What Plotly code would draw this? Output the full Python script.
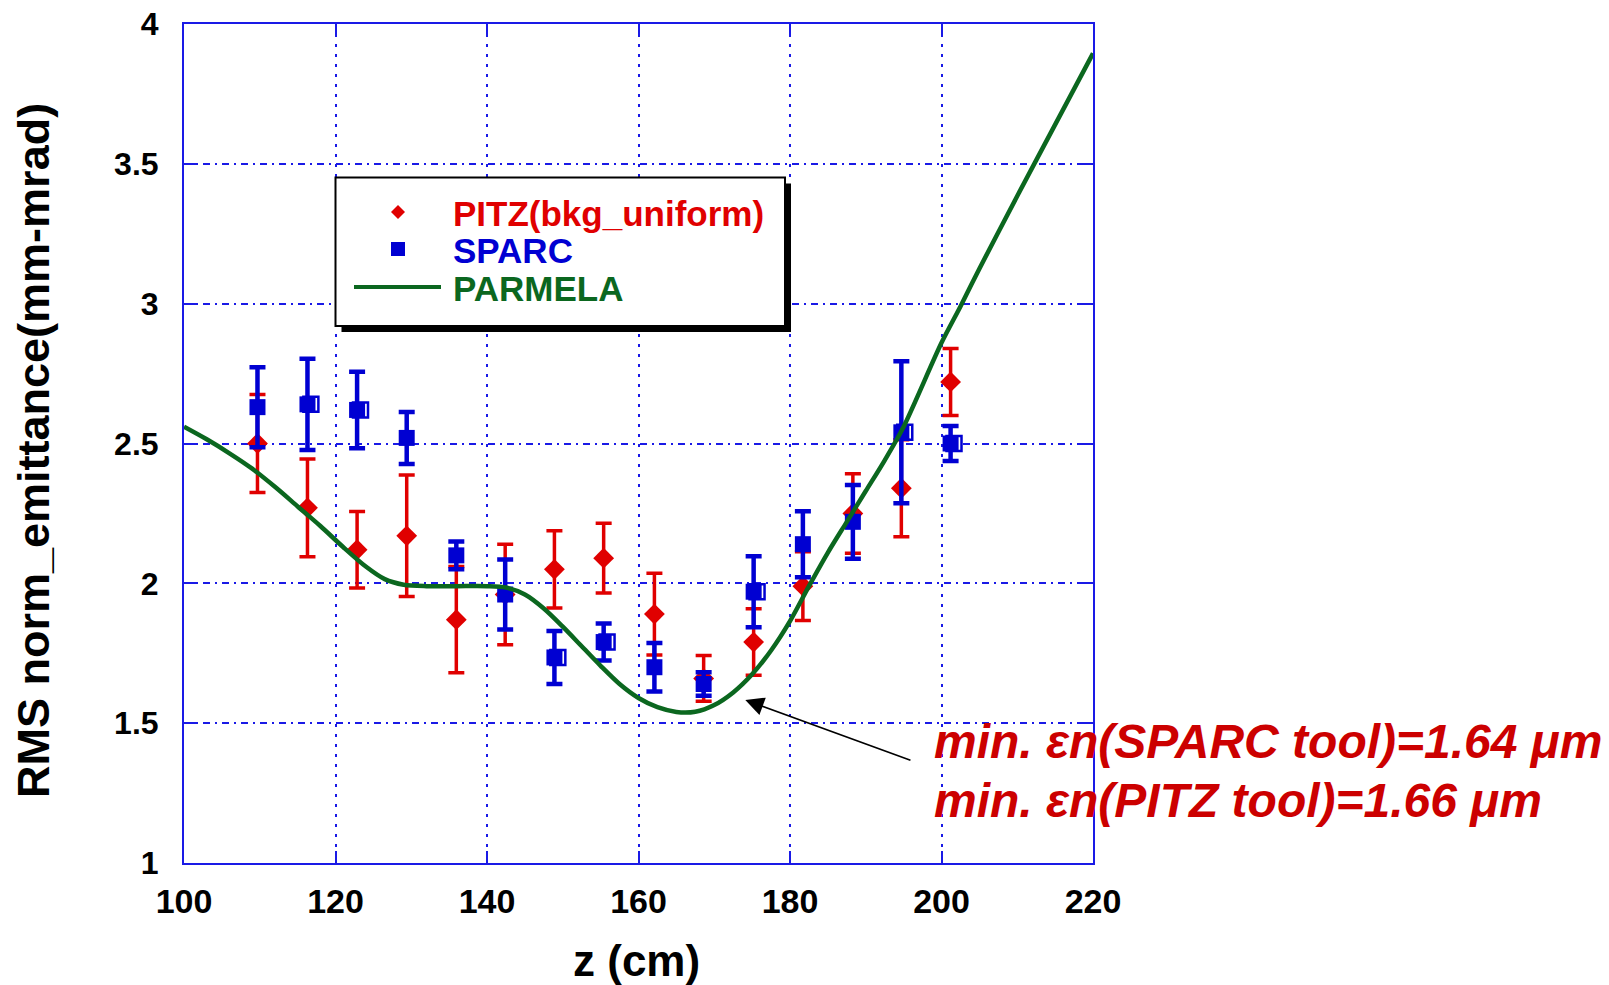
import plotly.graph_objects as go

# Measurement positions along the beamline (cm)
z_cm = [109.7, 116.3, 122.85, 129.4, 135.95, 142.4, 148.9, 155.4,
        162.1, 168.6, 175.2, 181.7, 188.3, 194.7, 201.2]

# PITZ analysis (bkg_uniform), emittance in mm-mrad with errors
pitz_emit = [2.50, 2.27, 2.12, 2.17, 1.87, 1.96, 2.05, 2.09,
             1.89, 1.66, 1.79, 1.99, 2.25, 2.34, 2.72]
pitz_err = [0.175, 0.175, 0.137, 0.217, 0.19, 0.18, 0.138, 0.125,
            0.146, 0.082, 0.119, 0.123, 0.142, 0.173, 0.12]

# SPARC analysis, emittance in mm-mrad with errors
sparc_emit = [2.63, 2.64, 2.62, 2.52, 2.10, 1.96, 1.735, 1.79,
              1.70, 1.64, 1.97, 2.14, 2.22, 2.54, 2.50]
sparc_err = [0.143, 0.163, 0.137, 0.093, 0.05, 0.125, 0.095, 0.066,
             0.087, 0.042, 0.127, 0.118, 0.132, 0.254, 0.063]
# points that carry a second (hollow) SPARC marker
sparc_hollow = [False, True, True, False, False, False, True, True,
                False, False, True, False, False, True, True]

# PARMELA simulation
parmela_z = [100, 103, 106, 109, 112, 115, 118, 121, 124, 126.5,
             129, 132, 136, 140, 142.5, 145, 147.5, 150, 152.5, 155,
             157.5, 160, 162.5, 165, 167.5, 170, 172.5, 175, 177.5, 180,
             182.5, 185, 187.5, 190, 192.5, 195, 200, 202.5, 205, 210,
             215, 220]
parmela_emit = [2.56, 2.515, 2.465, 2.41, 2.345, 2.275, 2.205, 2.13, 2.06, 2.015,
                1.995, 1.99, 1.99, 1.99, 1.985, 1.96, 1.91, 1.845, 1.775, 1.705,
                1.64, 1.59, 1.557, 1.54, 1.541, 1.565, 1.61, 1.675, 1.76, 1.865,
                1.99, 2.11, 2.22, 2.33, 2.44, 2.56, 2.86, 2.99, 3.125, 3.385,
                3.64, 3.895]

x_ticks = [100, 120, 140, 160, 180, 200, 220]
y_ticks = [1, 1.5, 2, 2.5, 3, 3.5, 4]
y_ticktext = ["1", "1.5", "2", "2.5", "3", "3.5", "4"]

legend_names = ["PITZ(bkg_uniform)", "SPARC", "PARMELA"]
note_lines = ["min. \u03b5n(SPARC tool)=1.64 \u03bcm",
              "min. \u03b5n(PITZ tool)=1.66 \u03bcm"]

RED = "#e00000"
BLUE = "#0000d2"
GREEN = "#0b671f"
AXIS_BLUE = "#1a1ae6"
TEXT_RED = "#cc0000"

W, H = 1609, 985
ML, MR, MT, MB = 184, 516, 24, 122
PW, PH = W - ML - MR, H - MT - MB


def px(x):
    return (x - ML) / PW


def py(y):
    return (H - MB - y) / PH


fig = go.Figure()

fig.add_trace(go.Scatter(
    x=z_cm, y=pitz_emit, mode="markers", name=legend_names[0],
    marker=dict(symbol="diamond", size=16, color=RED),
    error_y=dict(type="data", array=pitz_err, color=RED, thickness=3.5, width=8),
    showlegend=False,
))

hollow_x = [z + 0.45 for z, h in zip(z_cm, sparc_hollow) if h]
hollow_y = [v for v, h in zip(sparc_emit, sparc_hollow) if h]
fig.add_trace(go.Scatter(
    x=hollow_x, y=hollow_y, mode="markers",
    marker=dict(symbol="square-open", size=15, color=BLUE, line=dict(width=2.5)),
    showlegend=False, hoverinfo="skip",
))

fig.add_trace(go.Scatter(
    x=z_cm, y=sparc_emit, mode="markers", name=legend_names[1],
    marker=dict(symbol="square", size=16, color=BLUE),
    error_y=dict(type="data", array=sparc_err, color=BLUE, thickness=4.5, width=8),
    showlegend=False,
))

fig.add_trace(go.Scatter(
    x=parmela_z, y=parmela_emit, mode="lines", name=legend_names[2],
    line=dict(color=GREEN, width=4.5, shape="spline", smoothing=0.8),
    showlegend=False,
))

grid_common = dict(
    showline=True, linecolor=AXIS_BLUE, linewidth=2, mirror="ticks",
    ticks="inside", ticklen=12, tickcolor=AXIS_BLUE, tickwidth=2,
    showgrid=True, gridcolor=AXIS_BLUE, gridwidth=2, zeroline=False,
    automargin=False,
)

fig.update_xaxes(
    range=[100, 220], tickvals=x_ticks, griddash="3px,7px",
    ticklabelstandoff=7,
    tickfont=dict(family="Liberation Sans, Arial", size=34, color="black",
                  weight="bold"),
    **grid_common,
)
fig.update_yaxes(
    range=[1, 4], tickvals=y_ticks, ticktext=y_ticktext, griddash="7px,5px,2px,5px",
    ticklabelstandoff=17,
    tickfont=dict(family="Liberation Sans, Arial", size=32, color="black", weight="bold"),
    **grid_common,
)

shapes = []
annotations = []

# legend box with drop shadow
lx0, lx1, ly0, ly1 = 335.5, 785, 177.5, 326
shapes.append(dict(type="rect", xref="paper", yref="paper",
                   x0=px(lx0 + 6), x1=px(lx1 + 6), y0=py(ly0 + 6), y1=py(ly1 + 6),
                   fillcolor="black", line=dict(width=0), layer="above"))
shapes.append(dict(type="rect", xref="paper", yref="paper",
                   x0=px(lx0), x1=px(lx1), y0=py(ly0), y1=py(ly1),
                   fillcolor="white", line=dict(color="black", width=2), layer="above"))
# legend symbols
shapes.append(dict(type="path", xref="paper", yref="paper", xsizemode="pixel",
                   ysizemode="pixel", xanchor=px(398), yanchor=py(212),
                   path="M0,7 L7,0 L0,-7 L-7,0 Z", fillcolor=RED,
                   line=dict(width=0), layer="above"))
shapes.append(dict(type="rect", xref="paper", yref="paper", xsizemode="pixel",
                   ysizemode="pixel", xanchor=px(398), yanchor=py(249),
                   x0=-7, x1=7, y0=-7, y1=7, fillcolor=BLUE,
                   line=dict(width=0), layer="above"))
shapes.append(dict(type="line", xref="paper", yref="paper",
                   x0=px(354), x1=px(441), y0=py(287), y1=py(287),
                   line=dict(color=GREEN, width=4), layer="above"))

legend_font = dict(family="Liberation Sans, Arial", size=35, weight="bold")
for name, color, ypix in zip(legend_names, [RED, BLUE, GREEN], [213, 250, 288]):
    annotations.append(dict(xref="paper", yref="paper", x=px(451), y=py(ypix),
                            xanchor="left", yanchor="middle", showarrow=False,
                            text=name, font=dict(color=color, **legend_font)))

# axis titles
annotations.append(dict(xref="paper", yref="paper", x=px(636), y=py(961),
                        xanchor="center", yanchor="middle", showarrow=False,
                        text="z (cm)",
                        font=dict(family="Liberation Sans, Arial", size=44,
                                  color="black", weight="bold")))
annotations.append(dict(xref="paper", yref="paper", x=px(34), y=py(451),
                        xanchor="center", yanchor="middle", showarrow=False,
                        textangle=-90, text="RMS norm_emittance(mm-mrad)",
                        font=dict(family="Liberation Sans, Arial", size=45,
                                  color="black", weight="bold")))

# arrow pointing at the simulated minimum
annotations.append(dict(xref="x", yref="y", x=174.1, y=1.583,
                        axref="x", ayref="y", ax=196.1, ay=1.365,
                        showarrow=True, arrowhead=2, arrowsize=2.3,
                        arrowwidth=1.6, arrowcolor="black", text=""))

note_font = dict(family="Liberation Sans, Arial", size=48, color=TEXT_RED,
                 weight="bold", style="italic")
for line, ypix in zip(note_lines, [741, 800]):
    annotations.append(dict(xref="paper", yref="paper", x=px(932), y=py(ypix),
                            xanchor="left", yanchor="middle", showarrow=False,
                            text=line, font=note_font))

fig.update_layout(
    width=W, height=H,
    margin=dict(l=ML, r=MR, t=MT, b=MB, pad=0),
    paper_bgcolor="white", plot_bgcolor="white",
    shapes=shapes, annotations=annotations,
    showlegend=False,
)

fig.write_html("out.html")
